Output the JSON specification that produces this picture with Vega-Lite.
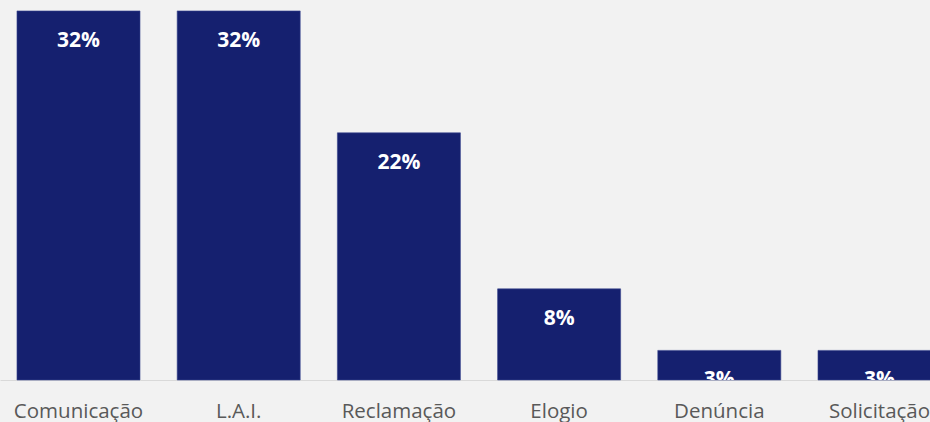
{
  "$schema": "https://vega.github.io/schema/vega-lite/v6.json",
  "autosize": {"type": "none"},
  "padding": {"left": 0, "top": 0, "right": 0, "bottom": 42},
  "width": 958,
  "height": 380,
  "background": "#f2f2f2",
  "config": {"view": {"stroke": null}},
  "data": {"values": [
    {"tipo": "Comunicação", "pct": 0.324},
    {"tipo": "L.A.I.", "pct": 0.324},
    {"tipo": "Reclamação", "pct": 0.217},
    {"tipo": "Elogio", "pct": 0.080},
    {"tipo": "Denúncia", "pct": 0.026},
    {"tipo": "Solicitação", "pct": 0.026}
  ]},
  "encoding": {
    "x": {
      "field": "tipo", "type": "nominal", "sort": null,
      "scale": {"paddingInner": 0.232, "paddingOuter": 0.106},
      "axis": {
        "title": null, "ticks": false, "labelAngle": 0,
        "domainColor": "#d9d9d9", "domainWidth": 1.2,
        "labelColor": "#595959", "labelFont": "Open Sans", "labelFontSize": 20.5,
        "labelPadding": 21, "labelOverlap": false, "labelBound": false, "labelFlush": false
      }
    },
    "y": {
      "field": "pct", "type": "quantitative",
      "scale": {"domain": [0, 0.3336], "nice": false, "zero": true},
      "axis": null
    }
  },
  "layer": [
    {"mark": {"type": "bar", "color": "#15206f", "stroke": "#3a468f", "strokeWidth": 0.6}},
    {
      "mark": {"type": "text", "color": "#ffffff", "font": "Open Sans", "fontWeight": "bold", "fontSize": 21, "baseline": "alphabetic", "align": "center", "dy": 36, "clip": true},
      "encoding": {"text": {"field": "pct", "type": "quantitative", "format": ".0%"}}
    }
  ]
}
